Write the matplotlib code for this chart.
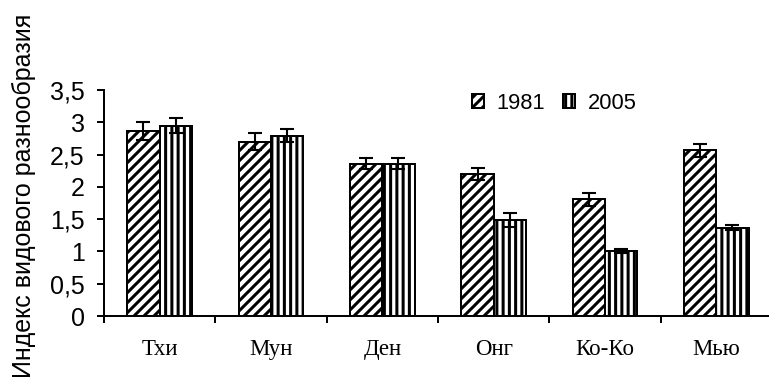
import numpy as np
import matplotlib
matplotlib.use('Agg')
import matplotlib.pyplot as plt
from matplotlib.ticker import FuncFormatter

# Индекс видового разнообразия по станциям, 1981 и 2005
stations = ['Тхи', 'Мун', 'Ден', 'Онг', 'Ко-Ко', 'Мью']
idx_1981 = [2.86, 2.70, 2.36, 2.20, 1.81, 2.57]
idx_2005 = [2.95, 2.79, 2.36, 1.49, 1.01, 1.37]
err_1981 = [0.14, 0.13, 0.09, 0.09, 0.10, 0.10]
err_2005 = [0.12, 0.10, 0.09, 0.11, 0.03, 0.04]

DPI = 150
plt.rcParams['font.family'] = ['Liberation Sans', 'DejaVu Sans']
plt.rcParams['hatch.linewidth'] = 1.45
plt.rcParams['hatch.color'] = 'black'

fig = plt.figure(figsize=(769 / DPI, 381 / DPI), dpi=DPI)
ax = fig.add_axes([0.1352, 0.1706, 0.8687, 0.5932])

x = np.arange(len(stations))
w = 0.29
lw = 0.95

ax.bar(x - w / 2, idx_1981, width=w, color='white', edgecolor='black',
       linewidth=lw, hatch='/////', label='1981', zorder=2)
ax.bar(x + w / 2, idx_2005, width=w, color='white', edgecolor='black',
       linewidth=lw, hatch='||||', label='2005', zorder=2)

ax.errorbar(x - w / 2, idx_1981, yerr=err_1981, fmt='none', ecolor='black',
            elinewidth=1.0, capsize=3.4, capthick=1.0, zorder=3)
ax.errorbar(x + w / 2, idx_2005, yerr=err_2005, fmt='none', ecolor='black',
            elinewidth=1.0, capsize=3.4, capthick=1.0, zorder=3)

ax.set_xlim(-0.5, len(stations) - 0.5)
ax.set_ylim(0, 3.5)

# подписи станций по центрам, засечки на границах групп
ax.set_xticks(x)
ax.set_xticklabels(stations, family='Liberation Serif', fontsize=11)
ax.set_xticks(np.arange(-0.5, len(stations)), minor=True)
ax.tick_params(axis='x', which='major', length=0, pad=11)
ax.tick_params(axis='x', which='minor', length=3.4, width=lw, direction='out')

ax.set_yticks(np.arange(0, 3.51, 0.5))
ax.yaxis.set_major_formatter(FuncFormatter(lambda v, p: f'{v:g}'.replace('.', ',')))
ax.tick_params(axis='y', length=3.4, width=lw, direction='out', pad=5.8,
               labelsize=12)

for s in ['top', 'right']:
    ax.spines[s].set_visible(False)
for s in ['left', 'bottom']:
    ax.spines[s].set_linewidth(lw)

fig.text(24 / 769, 1 - 196 / 381, 'Индекс видового разнообразия',
         rotation=90, ha='center', va='center', fontsize=12)

ax.legend(loc='center left', bbox_to_anchor=(0.551, 0.94), ncol=2,
          frameon=False, fontsize=10.5, handlelength=0.55, handleheight=0.6,
          handletextpad=0.55, columnspacing=0.85, borderpad=0,
          borderaxespad=0)

fig.savefig('out.png', dpi=DPI)
